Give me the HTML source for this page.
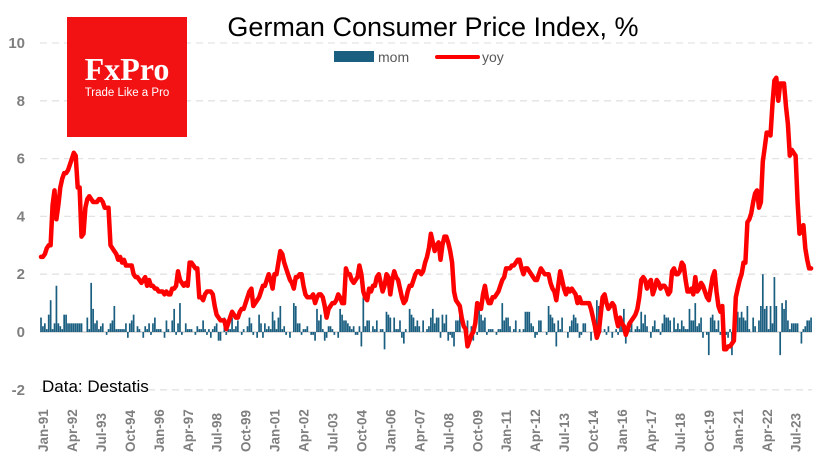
<!DOCTYPE html>
<html><head><meta charset="utf-8"><style>
html,body{margin:0;padding:0;background:#fff;}
svg{display:block;font-family:"Liberation Sans",sans-serif;}
</style></head><body>
<svg id="chart" width="835" height="470" viewBox="0 0 835 470">
<g id="grid"></g>
<g id="bars"></g>
<g id="yaxis"></g>
<g id="xaxis"></g>
<path id="yoyline" fill="none" stroke="#ff0000" stroke-width="4.5" stroke-linejoin="round" stroke-linecap="round"/>
<g>
<rect x="67" y="17" width="120" height="120" fill="#f21214"/>
<text x="127" y="80" text-anchor="middle" fill="#fff" font-family="Liberation Serif,serif" font-weight="bold" font-size="32">FxPro</text>
<text x="127" y="96" text-anchor="middle" fill="#fff" font-size="11.5">Trade Like a Pro</text>
</g>
<text x="433" y="36" text-anchor="middle" font-size="27" fill="#000">German Consumer Price Index, %</text>
<g>
<rect x="334" y="51" width="40" height="11" fill="#1a5e80"/>
<text x="378" y="62" font-size="14" fill="#595959">mom</text>
<line x1="437" y1="57" x2="478" y2="57" stroke="#ff0000" stroke-width="4" stroke-linecap="round"/>
<text x="482" y="62" font-size="14" fill="#595959">yoy</text>
</g>
<text x="42" y="392" font-size="17" fill="#000">Data: Destatis</text>
</svg>
<script>
const yoy = [
2.6,2.6,2.7,2.9,3.0,3.0,4.4,4.9,3.9,4.4,5.0,5.3,
5.5,5.5,5.6,5.8,6.0,6.2,6.1,5.0,5.0,3.3,3.4,4.3,
4.6,4.7,4.6,4.5,4.5,4.5,4.6,4.6,4.5,4.3,4.3,4.3,
3.0,2.9,2.8,2.7,2.5,2.6,2.4,2.5,2.3,2.3,2.3,2.3,
2.0,1.9,1.9,1.8,1.7,1.8,1.9,1.6,1.8,1.6,1.6,1.5,
1.5,1.4,1.4,1.4,1.3,1.4,1.3,1.3,1.5,1.5,1.6,2.1,
1.8,1.7,1.6,1.7,1.6,2.4,2.4,2.3,2.2,2.2,1.2,1.2,
1.1,1.3,1.4,1.4,1.4,1.3,0.9,0.6,0.5,0.4,0.4,0.4,
0.1,0.3,0.5,0.7,0.6,0.5,0.5,0.7,0.8,0.8,1.0,1.2,
1.4,1.5,0.9,1.0,1.1,1.2,1.4,1.6,1.6,1.8,2.0,1.8,
1.5,2.0,2.0,2.4,2.8,2.7,2.4,2.2,2.0,1.8,1.7,1.5,
1.9,1.9,2.0,2.0,1.6,1.3,1.2,1.2,1.2,1.3,1.0,1.2,
1.3,1.3,1.2,0.9,0.5,0.8,0.9,1.0,1.0,1.1,1.3,1.2,
1.0,1.0,2.2,2.0,2.0,1.8,1.7,1.8,1.9,2.3,2.0,1.4,
1.2,1.1,1.5,1.4,1.6,1.6,1.9,2.0,1.7,1.4,1.6,2.0,
1.9,1.3,1.8,2.1,1.9,1.8,1.5,1.2,1.0,1.1,1.4,1.6,
1.6,1.8,2.0,2.1,2.1,2.0,2.1,2.4,2.6,2.9,3.4,3.1,
2.8,3.0,3.1,2.5,3.0,3.3,3.3,3.1,2.8,2.4,1.4,1.1,
1.0,0.9,0.5,0.2,0.1,-0.5,-0.3,-0.1,0.0,0.3,1.0,0.9,
0.8,1.3,1.6,1.2,1.0,1.0,1.2,1.2,1.3,1.4,1.6,1.8,
1.9,2.2,2.2,2.2,2.3,2.3,2.4,2.5,2.5,2.2,2.0,2.2,
2.2,2.1,2.0,1.9,1.8,1.8,2.0,2.2,2.1,2.0,2.0,2.0,
1.7,1.5,1.4,1.1,1.6,2.1,1.8,1.5,1.3,1.5,1.4,1.5,
1.4,1.3,1.0,1.2,1.0,1.0,1.0,1.0,1.0,0.8,0.5,0.2,
-0.2,0.0,0.6,1.2,1.3,1.0,0.8,0.9,1.0,0.9,0.5,0.2,
0.5,0.3,0.2,-0.1,0.1,0.3,0.4,0.5,0.6,0.8,1.2,1.8,
1.9,1.8,1.5,1.7,1.8,1.3,1.5,1.8,1.7,1.5,1.6,1.6,
1.5,1.3,1.4,2.1,2.2,2.0,2.0,2.1,2.4,2.3,1.8,1.4,
1.4,1.5,1.3,1.9,1.4,1.5,1.7,1.6,1.4,1.2,1.1,1.5,
1.9,2.1,1.4,0.9,0.7,0.9,-0.6,-0.6,-0.5,-0.5,-0.4,-0.3,
1.2,1.5,1.8,2.0,2.4,2.4,3.8,3.9,4.1,4.5,4.8,4.9,
4.3,4.5,5.9,6.4,6.9,6.9,6.8,7.9,8.7,8.8,8.0,8.6,
8.6,8.6,7.8,7.2,6.1,6.3,6.2,6.1,4.5,3.4,3.5,3.7,
2.9,2.5,2.2,2.2];
const mom = [
0.5,0.2,0.3,0.1,0.6,1.1,0.1,0.3,1.6,0.3,0.2,0.1,
0.6,0.6,0.3,0.3,0.3,0.3,0.3,0.3,0.3,0.3,0.0,0.0,
0.5,0.1,1.7,0.8,0.3,0.4,0.1,0.2,0.3,0.0,-0.1,0.1,
0.3,0.4,0.9,0.1,0.1,0.1,0.1,0.1,0.3,-0.2,0.3,0.4,
0.6,0.0,0.2,0.1,0.0,-0.2,0.2,0.1,0.3,-0.1,0.3,0.5,
0.1,0.1,0.1,0.0,-0.2,0.4,0.1,0.0,0.4,0.8,-0.1,0.3,
1.0,-0.1,0.0,0.3,0.1,0.1,0.1,0.0,-0.1,0.2,0.1,0.1,
0.4,0.1,-0.1,0.1,-0.2,0.1,0.2,0.3,-0.3,-0.3,0.0,0.5,
-0.1,0.1,0.1,0.5,0.1,0.2,0.4,0.0,-0.1,0.1,0.0,0.2,
0.5,0.3,-0.1,0.0,-0.2,0.6,0.3,-0.2,0.3,0.1,0.2,0.1,
0.7,0.4,0.1,0.5,0.9,0.1,0.2,-0.1,0.0,-0.2,0.0,1.0,
0.9,0.3,0.3,-0.1,0.1,0.1,0.2,0.0,-0.1,-0.1,-0.3,0.8,
0.4,0.6,0.1,-0.3,-0.2,0.2,0.2,0.1,-0.1,0.0,-0.2,0.8,
0.6,0.4,0.4,0.3,0.2,0.1,0.2,-0.1,-0.1,0.2,-0.5,1.2,
0.2,0.4,0.4,0.0,0.2,0.1,0.4,0.0,0.1,0.1,-0.6,0.7,
0.6,0.5,0.0,0.5,0.1,0.1,0.4,-0.2,-0.4,0.1,0.0,0.8,
0.6,0.5,0.2,0.4,0.2,0.0,0.4,0.0,0.1,0.2,0.5,0.8,
0.3,0.5,0.5,-0.2,0.6,0.3,0.6,-0.3,-0.1,-0.2,-0.5,0.4,
0.4,0.6,0.0,0.0,-0.2,0.4,0.0,0.2,-0.3,0.0,-0.1,0.8,
0.6,0.4,0.5,-0.1,0.1,0.1,0.1,0.0,-0.1,0.1,0.1,1.0,
0.4,0.5,0.5,0.2,0.0,0.1,0.4,0.0,0.1,0.0,0.1,0.7,
0.7,0.7,0.3,0.2,-0.2,-0.1,0.4,0.4,0.0,0.0,-0.1,0.9,
0.6,0.5,0.3,-0.5,0.4,0.1,0.5,0.0,0.0,-0.2,0.2,0.4,
0.6,0.5,0.3,-0.2,-0.1,0.3,0.3,0.0,0.0,-0.3,0.0,-0.1,
1.1,0.9,0.5,0.0,0.1,-0.1,0.2,0.0,-0.2,0.0,0.1,-0.1,
0.4,0.4,0.8,-0.4,0.3,0.1,0.3,0.0,0.1,0.2,0.1,0.7,
0.3,0.6,0.2,0.0,-0.2,0.2,0.4,0.1,0.1,-0.1,0.3,0.6,
0.5,0.5,0.4,0.0,0.5,0.1,0.3,0.1,0.4,0.2,0.1,0.1,
0.8,0.4,0.4,1.0,0.2,0.3,0.5,-0.2,0.0,-0.1,-0.8,0.5,
0.6,0.4,0.1,0.4,-0.1,0.6,-0.5,-0.1,-0.2,0.1,-0.8,0.5,
0.8,0.7,0.5,0.7,0.5,0.4,0.9,0.1,0.0,0.5,0.2,0.0,
0.4,0.9,2.0,0.8,0.9,0.1,0.9,0.3,1.9,0.9,0.0,-0.8,
1.0,0.8,1.1,0.4,0.1,0.3,0.3,0.3,0.3,0.0,-0.4,0.1,
0.2,0.4,0.4,0.5];
const yTicks = [-2,0,2,4,6,8,10];
const xTickLabels = ["Jan-91","Apr-92","Jul-93","Oct-94","Jan-96","Apr-97","Jul-98","Oct-99","Jan-01","Apr-02","Jul-03","Oct-04","Jan-06","Apr-07","Jul-08","Oct-09","Jan-11","Apr-12","Jul-13","Oct-14","Jan-16","Apr-17","Jul-18","Oct-19","Jan-21","Apr-22","Jul-23"];
const xTickStep = 15;

const NS="http://www.w3.org/2000/svg";
const X0=41, DX=1.93, Y0=332, UNIT=28.9;
function xs(i){return X0+i*DX;}
function ys(v){return Y0-v*UNIT;}
function mk(tag,attrs,parent){const e=document.createElementNS(NS,tag);for(const k in attrs)e.setAttribute(k,attrs[k]);parent.appendChild(e);return e;}

const grid=document.getElementById('grid'), yax=document.getElementById('yaxis'), xax=document.getElementById('xaxis'), bars=document.getElementById('bars');
yTicks.forEach(t=>{
  if(t!==0){
    const g=mk('line',{x1:40,x2:812,y1:ys(t),y2:ys(t),stroke:'#e3e3e3','stroke-width':1.3,'stroke-dasharray':'7,5'},grid);
    
    
  }
  const tx=mk('text',{x:25,y:ys(t)+5,'text-anchor':'end','font-size':15,'font-weight':'bold',fill:'#7f7f7f'},yax);
  tx.textContent=String(t);
  
  
});
mom.forEach((v,i)=>{
  const y=Math.min(ys(v),ys(0)), h=Math.abs(ys(v)-ys(0));
  const r=mk('rect',{x:xs(i)-0.85,y:y,width:1.7,height:h,fill:'#1a5e80'},bars);
  
  
});
const zl=mk('line',{x1:40,x2:812,y1:ys(0),y2:ys(0),stroke:'#d0d0d0','stroke-width':1.5},grid);


xTickLabels.forEach((lab,k)=>{
  const x=xs(k*xTickStep)+2;
  const tx=mk('text',{x:0,y:0,transform:'translate('+(x+5)+',452) rotate(-90)','font-size':13.5,'font-weight':'bold',fill:'#7f7f7f'},xax);
  tx.textContent=lab;
  
  
});
document.getElementById('yoyline').setAttribute('d',yoy.map((v,i)=>(i?'L':'M')+xs(i).toFixed(1)+','+ys(v).toFixed(1)).join(''));
</script>
</body></html>
